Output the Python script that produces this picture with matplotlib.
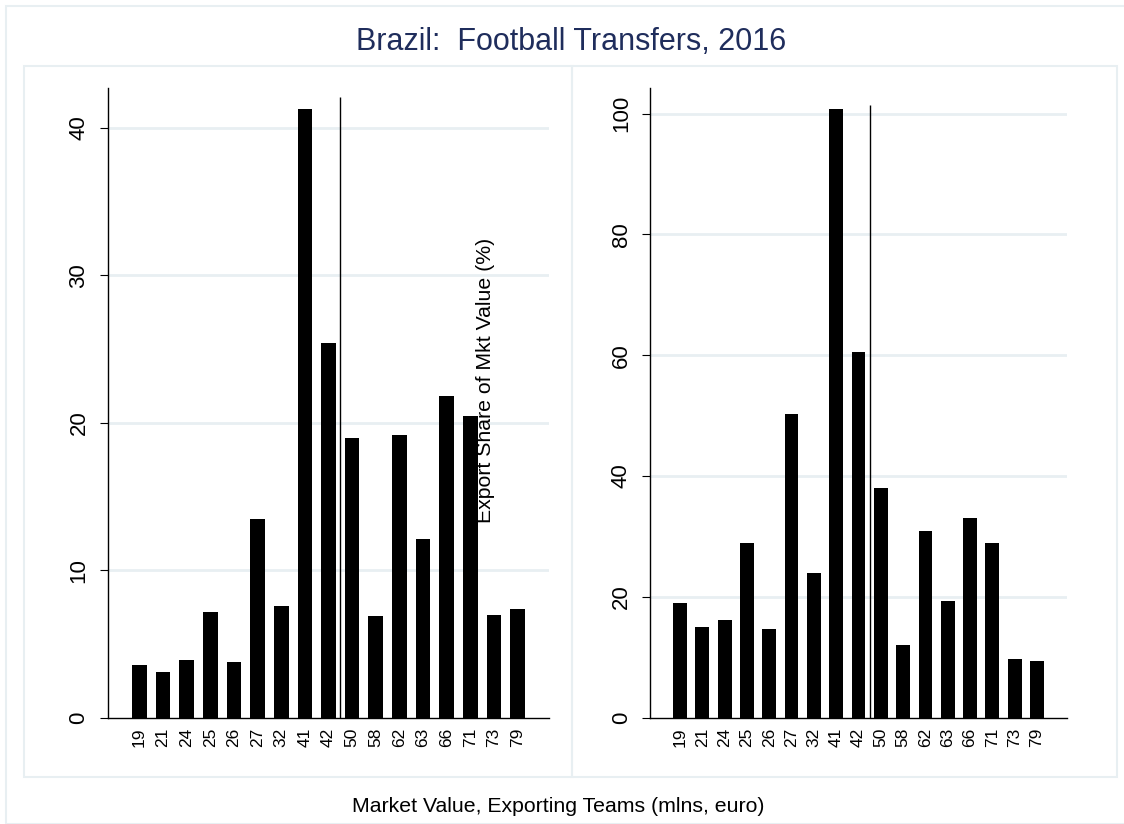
import matplotlib
matplotlib.use("Agg")
import matplotlib.pyplot as plt
from matplotlib.patches import Rectangle

plt.rcParams['font.family'] = ['Liberation Sans', 'DejaVu Sans']

# market value of exporting teams (mlns, euro)
teams = ['19', '21', '24', '25', '26', '27', '32', '41', '42',
         '50', '58', '62', '63', '66', '71', '73', '79']
# export share of market value (%), two measures
share_left = [3.6, 3.1, 3.9, 7.2, 3.8, 13.5, 7.6, 41.3, 25.4,
              19.0, 6.9, 19.2, 12.1, 21.8, 20.5, 7.0, 7.4]
share_right = [19.0, 15.0, 16.1, 28.9, 14.7, 50.3, 24.0, 100.7, 60.5,
               38.0, 12.0, 30.9, 19.3, 33.1, 28.9, 9.7, 9.4]
# reference line drawn between the 42 and 50 groups
ref_pos = 8.5
ref_top_left = 42.1
ref_top_right = 101.4

grid_col = '#E8EFF2'
title_col = '#1F2D5C'

fig = plt.figure(figsize=(11.24, 8.24), dpi=100)
W, H = 1124.0, 824.0

# outer frame and the two panel boxes
fig.add_artist(Rectangle((6 / W, 0), 1.2, 1 - 6 / H, transform=fig.transFigure,
                         fill=False, ec=grid_col, lw=1.5))
for x0, x1 in [(24, 571.5), (571.5, 1117)]:
    fig.add_artist(Rectangle((x0 / W, 1 - 777 / H), (x1 - x0) / W, (777 - 66) / H,
                             transform=fig.transFigure, fill=False, ec=grid_col, lw=1.5))

panels = [
    ([108, 549], share_left, [0, 10, 20, 30, 40], 42.7, ref_top_left),
    ([650.3, 1066.7], share_right, [0, 20, 40, 60, 80, 100], 104.2, ref_top_right),
]

x = list(range(len(teams)))
for (px0, px1), vals, yt, ytop, reftop in panels:
    ax = fig.add_axes([px0 / W, 1 - 717.7 / H, (px1 - px0) / W, (717.7 - 88.3) / H])
    ax.bar(x, vals, width=0.62, color='black', zorder=3)
    ax.vlines(ref_pos, 0, reftop, color='black', lw=1.0, zorder=4)
    ax.set_xlim(-1.33, 17.33)
    ax.set_ylim(0, ytop)
    ax.set_yticks(yt)
    ax.set_yticklabels([str(v) for v in yt], rotation=90, va='center', fontsize=16)
    ax.set_xticks(x)
    ax.set_xticklabels(teams, rotation=90, fontsize=12.5)
    ax.tick_params(axis='y', length=5.8, width=0.8, pad=7.5)
    ax.tick_params(axis='x', length=0, pad=7)
    for y in yt[1:]:
        ax.axhline(y, color=grid_col, lw=2, zorder=1)
    ax.spines['top'].set_visible(False)
    ax.spines['right'].set_visible(False)
    ax.spines['left'].set_linewidth(1)
    ax.spines['bottom'].set_linewidth(1)
    ax.set_facecolor('none')

fig.text(571 / W, 1 - 42 / H, 'Brazil:  Football Transfers, 2016',
         ha='center', va='center', fontsize=22, color=title_col)
fig.text(558 / W, 1 - 806 / H, 'Market Value, Exporting Teams (mlns, euro)',
         ha='center', va='center', fontsize=15.3)
fig.text(485 / W, 1 - 380 / H, 'Export Share of Mkt Value (%)',
         ha='center', va='center', rotation=90, fontsize=15.3)

fig.savefig('out.png', dpi=100)
